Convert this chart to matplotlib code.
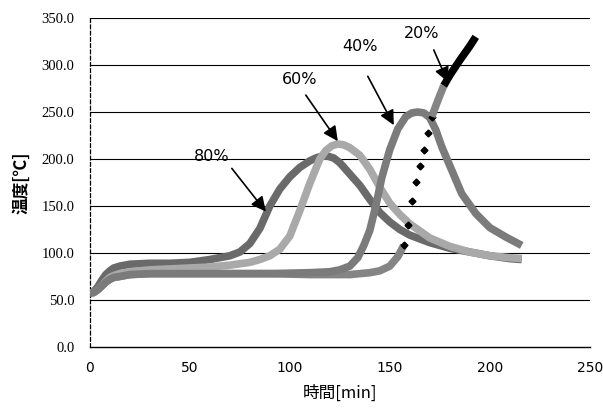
import matplotlib
matplotlib.use('Agg')
import matplotlib.pyplot as plt

plt.rcParams['font.family'] = ['DejaVu Sans', 'Noto Sans CJK JP']

# 80%
t80 = [0, 2, 4, 6, 8, 10, 12, 15, 20, 30, 40, 50, 60, 65, 70, 75, 80, 85, 90, 95, 100, 105,
       110, 113, 116, 119, 122, 125, 130, 135, 140, 145, 150, 155, 160, 170, 180, 190, 200, 210, 216]
T80 = [57, 59, 64, 71, 77, 81, 84, 86, 88, 89, 89, 90, 93, 95, 97, 101, 110, 126, 150, 168, 181, 191,
       198, 201, 203, 203, 201, 196, 184, 172, 157, 143, 133, 125, 119, 111, 105, 101, 97, 94, 93]

# 60%
t60 = [0, 2, 4, 6, 8, 10, 12, 15, 20, 30, 40, 50, 60, 70, 80, 85, 90, 95, 100, 105, 110,
       115, 118, 121, 124, 127, 130, 135, 140, 145, 150, 155, 160, 170, 180, 190, 200, 210, 216]
T60 = [57, 58, 61, 65, 70, 74, 76, 78, 80, 82, 83, 84, 85, 87, 90, 93, 97, 104, 118, 145, 174,
       200, 209, 214, 216, 215, 212, 204, 189, 170, 153, 141, 131, 116, 107, 101, 97, 95, 94]

# 40%
t40 = [0, 2, 4, 6, 8, 10, 12, 15, 20, 30, 50, 70, 90, 110, 120, 125, 130, 134, 137, 140, 143,
       146, 150, 154, 158, 161, 164, 167, 170, 173, 176, 181, 186, 193, 200, 208, 216]
T40 = [57, 58, 61, 65, 69, 72, 74, 75, 77, 78, 78, 78, 78, 79, 80, 82, 86, 95, 108, 124, 150,
       180, 210, 232, 245, 249, 250, 249, 244, 231, 213, 188, 163, 142, 127, 117, 108]

# 20%
t20 = [0, 2, 4, 6, 8, 10, 12, 15, 20, 30, 50, 70, 90, 110, 130, 140, 145, 150, 154, 157,
       159, 161, 163, 165, 167, 169, 171, 174, 177, 180, 185, 190, 193]
T20 = [57, 58, 61, 65, 69, 72, 74, 75, 77, 78, 78, 78, 78, 77, 77, 79, 81, 86, 96, 108,
       130, 155, 175, 192, 210, 228, 245, 262, 278, 289, 305, 320, 330]

labels = ['80%', '60%', '40%', '20%']
label_xy = [(61, 203), (105, 285), (135, 320), (166, 334)]
arrow_tail = [(71, 190), (108, 268), (139, 288), (172, 316)]
arrow_head = [(88, 144), (124, 219), (152, 236), (179, 282)]

fig = plt.figure(figsize=(6.03, 4.19), dpi=100)
ax = fig.add_axes([0.149, 0.172, 0.829, 0.785])

for y in range(50, 351, 50):
    ax.axhline(y, color='k', lw=0.8, zorder=1)

style = dict(lw=5.5, solid_capstyle='butt', solid_joinstyle='round')
ax.plot(t80, T80, color='#6a6a6a', zorder=3, **style)
ax.plot(t60, T60, color='#a9a9a9', zorder=4, **style)
ax.plot(t40, T40, color='#7b7b7b', zorder=5, **style)

# 20%: gray line, dotted middle part, black top part
n0 = t20.index(157)
n1 = t20.index(171)
n2 = t20.index(177)
ax.plot(t20[:n0 + 1], T20[:n0 + 1], color='#858585', zorder=2, **style)
ax.plot(t20[n0:n1 + 1], T20[n0:n1 + 1], 'D', color='k', ms=3.5, zorder=6)
ax.plot(t20[n1:n2 + 1], T20[n1:n2 + 1], color='#858585', zorder=6, **style)
ax.plot(t20[n2:], T20[n2:], color='k', zorder=6, **style)

for lab, xy, tail, head in zip(labels, label_xy, arrow_tail, arrow_head):
    ax.text(xy[0], xy[1], lab, fontsize=11.5, ha='center', va='center',
            family=['Liberation Sans Narrow', 'DejaVu Sans'])
    ax.annotate('', xy=head, xytext=tail,
                arrowprops=dict(arrowstyle='-|>', color='k', lw=1.2,
                                mutation_scale=22, shrinkA=0, shrinkB=0),
                zorder=7)

ax.set_xlim(0, 250)
ax.set_ylim(0, 350)
ax.set_xticks([0, 50, 100, 150, 200, 250])
ax.set_yticks(range(0, 351, 50))
ax.set_yticklabels(['%.1f' % v for v in range(0, 351, 50)],
                   family='Liberation Serif', fontsize=10.5)
ax.tick_params(axis='x', labelsize=10, length=0, pad=10)
ax.tick_params(axis='y', length=0, pad=11)

ax.spines['top'].set_visible(False)
ax.spines['right'].set_visible(False)
ax.spines['left'].set_linestyle((0, (3, 2)))
ax.spines['left'].set_linewidth(0.9)
ax.spines['bottom'].set_linewidth(1.0)

ax.set_xlabel('時間[min]', family=['Noto Sans CJK JP'], fontsize=12, labelpad=7)
ax.set_ylabel('温度[℃]', family=['Noto Sans CJK JP'], fontsize=12,
              fontweight='bold', labelpad=8)

fig.savefig('out.png', dpi=100)
